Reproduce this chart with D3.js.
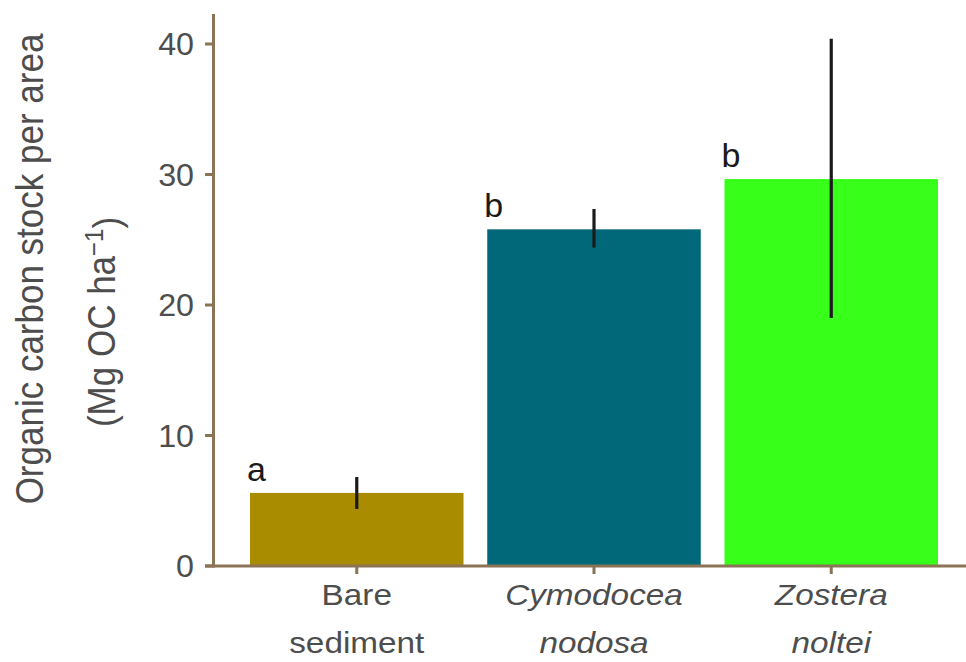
<!DOCTYPE html>
<html lang="en">
<head>
  <meta charset="UTF-8" />
  <title>Organic carbon stock per area</title>
  <script src="https://d3js.org/d3.v7.min.js"></script>
  <style>
    body {
      margin: 0;
      background: #fff;
      font-family: "Liberation Sans", Arial, sans-serif;
    }
    .tick-label { fill: #4d4d4d; font-size: 31px; }
    .cat-label { fill: #4d4d4d; font-size: 30px; }
    .axis-title { fill: #4d4d4d; font-size: 35px; }
    .sig { fill: #1a1a1a; font-size: 34px; }
  </style>
</head>
<body>
<svg id="chart" width="966" height="662"></svg>
<script>
// data
const categories = ["Bare sediment", "Cymodocea nodosa", "Zostera noltei"];
const labelLines = [["Bare", "sediment"], ["Cymodocea", "nodosa"], ["Zostera", "noltei"]];
const italicLabel = [false, true, true];
const means = [5.6, 25.8, 29.65];
const lower = [4.37, 24.4, 19.0];
const upper = [6.82, 27.36, 40.4];
const letters = ["a", "b", "b"];
const barColors = ["#aa8c00", "#006878", "#38ff1a"];
const yTicks = [0, 10, 20, 30, 40];

const svg = d3.select("#chart");
const axisColor = "#8b7355";
const stretch = 1.11; // the text in the original looks a bit wide

const x = d3.scaleBand()
  .domain(categories)
  .range([250, 938])
  .paddingInner(0.1)
  .paddingOuter(0);

const y = d3.scaleLinear()
  .domain([0, 42.3])
  .range([566, 14]);

// bars
svg.append("g")
  .selectAll("rect")
  .data(categories)
  .join("rect")
    .attr("x", d => x(d))
    .attr("y", (d, i) => y(means[i]))
    .attr("width", x.bandwidth())
    .attr("height", (d, i) => y(0) - y(means[i]))
    .attr("fill", (d, i) => barColors[i]);

// error bars
svg.append("g")
  .selectAll("line")
  .data(categories)
  .join("line")
    .attr("x1", d => x(d) + x.bandwidth() / 2)
    .attr("x2", d => x(d) + x.bandwidth() / 2)
    .attr("y1", (d, i) => y(lower[i]))
    .attr("y2", (d, i) => y(upper[i]))
    .attr("stroke", "#1a1a1a")
    .attr("stroke-width", 3.2);

// significance letters
svg.append("g")
  .selectAll("text")
  .data(categories)
  .join("text")
    .attr("class", "sig")
    .attr("x", d => x(d) - 3)
    .attr("y", (d, i) => y(means[i] + 0.95))
    .text((d, i) => letters[i]);

// y axis
const yAxis = svg.append("g");
yAxis.append("line")
  .attr("x1", 213.5).attr("x2", 213.5)
  .attr("y1", y.range()[1]).attr("y2", y(0) + 1.5)
  .attr("stroke", axisColor).attr("stroke-width", 3);
yAxis.selectAll(".tk")
  .data(yTicks)
  .join("line")
    .attr("x1", 205).attr("x2", 213)
    .attr("y1", d => y(d)).attr("y2", d => y(d))
    .attr("stroke", axisColor).attr("stroke-width", 3);
yAxis.selectAll("text")
  .data(yTicks)
  .join("text")
    .attr("class", "tick-label")
    .attr("transform", d => `translate(194,${y(d)}) scale(1.04,1)`)
    .attr("dy", "0.36em")
    .attr("text-anchor", "end")
    .text(d => d);

// x axis
const xAxis = svg.append("g");
xAxis.append("line")
  .attr("x1", 205).attr("x2", 966)
  .attr("y1", y(0)).attr("y2", y(0))
  .attr("stroke", axisColor).attr("stroke-width", 3);
xAxis.selectAll(".tk")
  .data(categories)
  .join("line")
    .attr("x1", d => x(d) + x.bandwidth() / 2)
    .attr("x2", d => x(d) + x.bandwidth() / 2)
    .attr("y1", y(0)).attr("y2", y(0) + 8)
    .attr("stroke", axisColor).attr("stroke-width", 3);
const catText = xAxis.selectAll("text")
  .data(categories)
  .join("text")
    .attr("class", "cat-label")
    .attr("text-anchor", "middle")
    .attr("transform", d => `translate(${x(d) + x.bandwidth() / 2},0) scale(${stretch},1)`)
    .style("font-style", (d, i) => italicLabel[i] ? "italic" : "normal");
catText.each(function(d, i) {
  d3.select(this).selectAll("tspan")
    .data(labelLines[i])
    .join("tspan")
      .attr("x", 0)
      .attr("y", (t, j) => 605 + j * 48)
      .text(t => t);
});

// y axis title (two lines)
svg.append("text")
  .attr("class", "axis-title")
  .attr("transform", `translate(43,269) scale(${stretch},1) rotate(-90)`)
  .attr("text-anchor", "middle")
  .text("Organic carbon stock per area");

const t2 = svg.append("text")
  .attr("class", "axis-title")
  .attr("transform", `translate(115,322) scale(${stretch},1) rotate(-90)`)
  .attr("text-anchor", "middle");
t2.append("tspan").text("(Mg OC ha");
t2.append("tspan").attr("dy", "-0.45em").style("font-size", "24px").text("\u22121");
t2.append("tspan").attr("dy", "0.45em").text(")");
</script>
</body>
</html>
